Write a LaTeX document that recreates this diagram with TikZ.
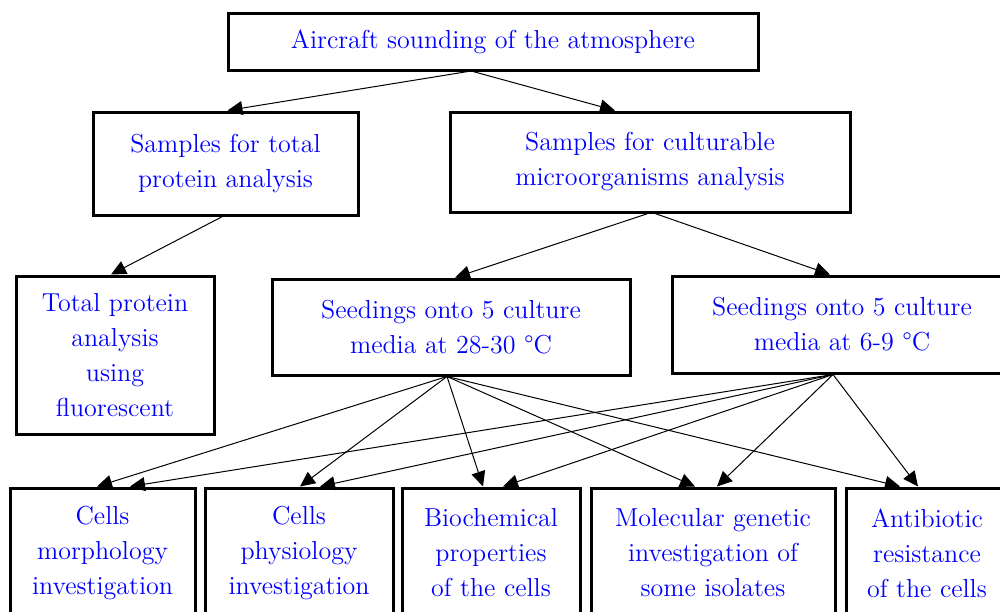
\documentclass[tikz,border=0pt]{standalone}
\usepackage{xcolor}
\usepackage{tikz}
\usetikzlibrary{arrows.meta,positioning,calc}

\begin{document}
\begin{tikzpicture}[x=0.5pt,y=-0.5pt,
  every node/.style={font=\fontsize{13}{17.5}\selectfont},
  bx/.style={draw,line width=1.5pt,align=center,text=blue,inner sep=0pt},
  arr/.style={line width=0.5pt,-{Triangle[length=7.5pt,width=7pt]}}]
 \useasboundingbox (0,0) rectangle (1000,611);
 \node[bx,minimum width=265pt,minimum height=28.5pt] (air) at (493,41.5) {Aircraft sounding of the atmosphere};
 \node[bx,minimum width=132.5pt,minimum height=51.5pt] (sprot) at (225.5,163.5) {Samples for total\\protein analysis};
 \node[bx,minimum width=200pt,minimum height=50pt] (scult) at (650,162) {Samples for culturable\\microorganisms analysis};
 \node[bx,minimum width=99pt,minimum height=79pt] (tprot) at (115,355) {Total protein\\analysis\\using\\fluorescent};
 \node[bx,minimum width=179pt,minimum height=48pt] (seedw) at (451,327) {Seedings onto 5 culture\\media at 28-30 \textdegree C};
 \node[bx,minimum width=170pt,minimum height=48.5pt] (seedc) at (842,324.5) {Seedings onto 5 culture\\media at 6-9 \textdegree C};
 \node[bx,minimum width=92.5pt,minimum height=65pt] (morph) at (102.5,553) {Cells\\morphology\\investigation};
 \node[bx,minimum width=94pt,minimum height=65pt] (phys) at (299,553) {Cells\\physiology\\investigation};
 \node[bx,minimum width=89pt,minimum height=65pt] (bio) at (491,553) {Biochemical\\properties\\of the cells};
 \node[bx,minimum width=122pt,minimum height=65pt] (mol) at (713,553) {Molecular genetic\\investigation of\\some isolates};
 \node[bx,minimum width=81pt,minimum height=65pt] (anti) at (927,553) {Antibiotic\\resistance\\of the cells};
 % upper levels
 \draw[arr] ($(air.south)+(-25,0)$) -- ($(sprot.north)+(2,0)$);
 \draw[arr] ($(air.south)+(-20,0)$) -- ($(scult.north)+(-35,0)$);
 \draw[arr] ($(sprot.south)+(-3,0)$) -- ($(tprot.north)+(-4,0)$);
 \draw[arr] ($(scult.south)+(-2,0)$) -- ($(seedw.north)+(4,0)$);
 \draw[arr] ($(scult.south)+(5,0)$) -- ($(seedc.north)+(-12,0)$);
 % seedings to the investigations
 \foreach \b/\dw/\dc in {morph/-5.5/27.5,phys/1/21,bio/-8/12,mol/-18/4,anti/-27/-9} {
   \draw[arr] ($(seedw.south)+(-4,0)$) -- ($(\b.north)+(\dw,0)$);
   \draw[arr] ($(seedc.south)+(-9,0)$) -- ($(\b.north)+(\dc,0)$);
 }
\end{tikzpicture}
\end{document}
